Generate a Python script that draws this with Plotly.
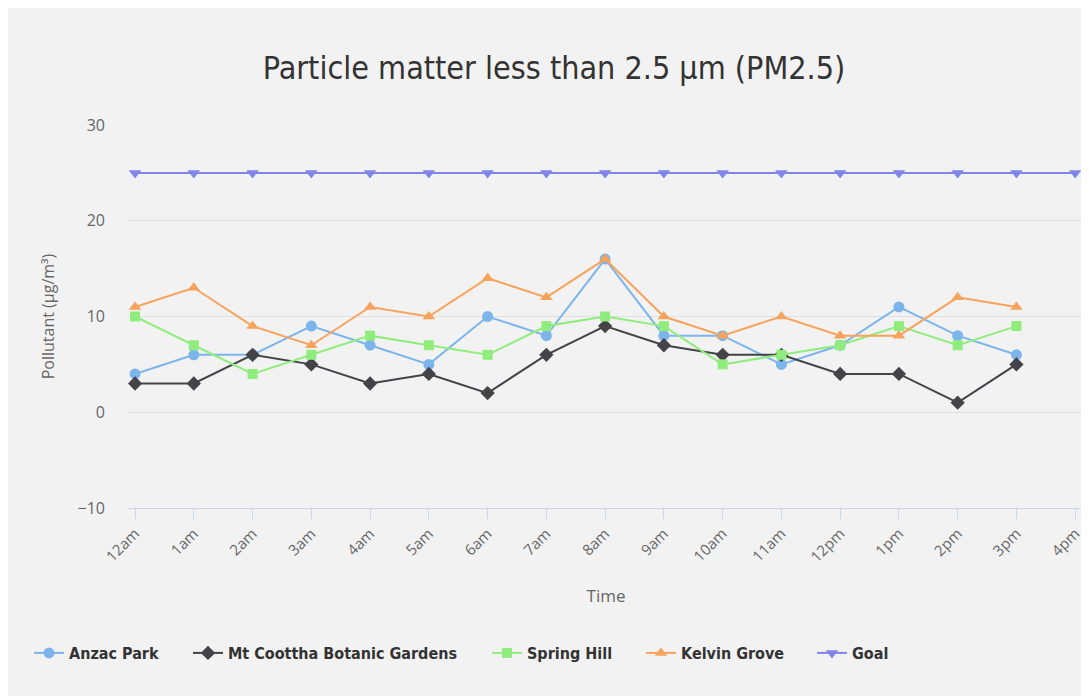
import plotly.graph_objects as go

hours = ["12am", "1am", "2am", "3am", "4am", "5am", "6am", "7am", "8am",
         "9am", "10am", "11am", "12pm", "1pm", "2pm", "3pm", "4pm"]

anzac_park = [4, 6, 6, 9, 7, 5, 10, 8, 16, 8, 8, 5, 7, 11, 8, 6]
mt_coottha = [3, 3, 6, 5, 3, 4, 2, 6, 9, 7, 6, 6, 4, 4, 1, 5]
spring_hill = [10, 7, 4, 6, 8, 7, 6, 9, 10, 9, 5, 6, 7, 9, 7, 9]
kelvin_grove = [11, 13, 9, 7, 11, 10, 14, 12, 16, 10, 8, 10, 8, 8, 12, 11]
goal = [25] * 17

series = [
    ("Anzac Park", anzac_park, "#7cb5ec", "circle", 11),
    ("Mt Coottha Botanic Gardens", mt_coottha, "#434348", "diamond", 11),
    ("Spring Hill", spring_hill, "#90ed7d", "square", 10),
    ("Kelvin Grove", kelvin_grove, "#f7a35c", "triangle-up", 11),
    ("Goal", goal, "#8085e9", "triangle-down", 11),
]

W, H = 1081, 688
ML, MR, MT, MB = 120, 5, 117, 188
PW = W - ML - MR
PH = H - MT - MB
OFF = 8  # page body margin

def px_to_paper_x(px):
    return (px - OFF - ML) / PW

legend_left_px = [29, 188, 487, 641, 812]
legend_names = ["legend", "legend2", "legend3", "legend4", "legend5"]
LEG_Y = -(653 - (OFF + MT + PH)) / PH

LEGEND_FONT = dict(family="DejaVu Sans Condensed, Liberation Sans Narrow, sans-serif",
                   size=16, color="#333333", weight="bold")

fig = go.Figure()
for (name, vals, color, sym, size), lg in zip(series, legend_names):
    fig.add_trace(go.Scatter(
        x=hours[:len(vals)], y=vals, name=name, mode="lines+markers",
        line=dict(color=color, width=2),
        marker=dict(color=color, symbol=sym, size=size, line=dict(width=0)),
        legend=lg,
    ))

BG = "#f2f2f2"
layout_legends = {}
for lg, lx in zip(legend_names, legend_left_px):
    layout_legends[lg] = dict(orientation="h", x=px_to_paper_x(lx), xanchor="left",
                              y=LEG_Y, yanchor="middle", font=LEGEND_FONT,
                              bgcolor="rgba(0,0,0,0)", itemwidth=30)

fig.update_layout(
    width=W, height=H,
    paper_bgcolor=BG, plot_bgcolor=BG,
    margin=dict(l=ML, r=MR, t=MT, b=MB),
    title=dict(text="Particle matter less than 2.5 µm (PM2.5)",
               x=(554 - OFF) / W, xanchor="center", y=1 - (68 - OFF) / H, yanchor="middle",
               font=dict(family="DejaVu Sans Condensed, Liberation Sans Narrow, sans-serif",
                         size=32, color="#333333")),
    font=dict(family="Open Sans, sans-serif", color="#666666"),
    showlegend=True,
    **layout_legends,
)

fig.update_xaxes(
    type="category", categoryorder="array", categoryarray=hours,
    range=[-0.12, 16.15],
    tickvals=hours, ticktext=hours,
    tickangle=-45, tickfont=dict(size=15, color="#666666"),
    ticks="outside", ticklen=10, tickcolor="#ccd6eb", tickwidth=1,
    showline=True, linecolor="#ccd6eb", linewidth=1,
    showgrid=False, zeroline=False,
    title=dict(text="Time", font=dict(size=17, color="#666666"), standoff=25),
)
fig.update_yaxes(
    range=[-10, 30], tickvals=[-10, 0, 10, 20, 30],
    tickfont=dict(size=16, color="#666666"),
    showgrid=True, gridcolor="#e0e0e0", gridwidth=1,
    zeroline=False, showline=False,
    ticklabelstandoff=22,
    title=dict(text="Pollutant (µg/m³)", font=dict(size=16, color="#666666"), standoff=18),
)

fig.write_html("out.html")
